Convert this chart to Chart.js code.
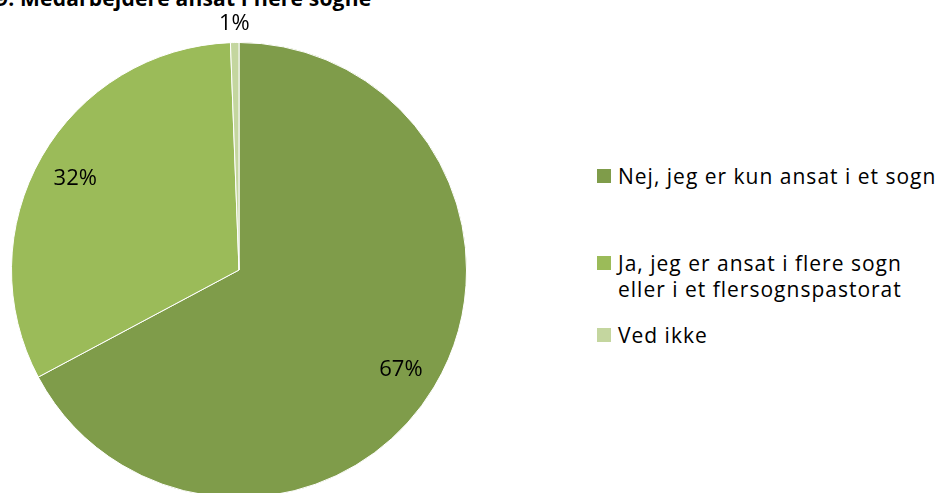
<!DOCTYPE html>
<html>
<head>
<meta charset="utf-8">
<script src="https://cdn.jsdelivr.net/npm/chart.js@4"></script>
<style>
  html, body { margin: 0; padding: 0; background: #fff; overflow: hidden; }
  body { width: 941px; height: 493px; position: relative; font-family: "Open Sans", Lato, sans-serif; color: #000; }
  #title { position: absolute; left: -4px; top: -16px; font-weight: bold; font-size: 21px; letter-spacing: 0.2px; white-space: nowrap; }
  #wrap { position: absolute; left: 0; top: 0; width: 478px; height: 540px; }
  #legend { position: absolute; left: 597px; top: 163px; }
  .item { position: relative; padding-left: 21px; font-size: 21px; letter-spacing: 1px; line-height: 26px; width: 320px; }
  .box { position: absolute; left: 0; top: 6px; width: 14px; height: 14px; }
</style>
</head>
<body>
<div id="title">9. Medarbejdere ansat i flere sogne</div>
<div id="wrap"><canvas id="chart"></canvas></div>
<div id="legend"></div>
<script>
// data
const categories = ["Nej, jeg er kun ansat i et sogn", "Ja, jeg er ansat i flere sogn eller i et flersognspastorat", "Ved ikke"];
const values = [67.2, 32.2, 0.6];
const colors = ["#7F9C4A", "#9BBB59", "#C4D69F"];

// procent-labels paa skiverne
const pctLabels = {
    id: "pctLabels",
    afterDatasetsDraw(chart) {
        const ctx = chart.ctx;
        const meta = chart.getDatasetMeta(0);
        const total = values.reduce((a, b) => a + b, 0);
        ctx.save();
        ctx.font = "22px 'Open Sans', sans-serif";
        ctx.fillStyle = "#000";
        ctx.textAlign = "center";
        ctx.textBaseline = "middle";
        meta.data.forEach((arc, i) => {
            const pct = values[i] / total * 100;
            const mid = (arc.startAngle + arc.endAngle) / 2;
            const r = pct < 3 ? arc.outerRadius + 22 : arc.outerRadius * 0.83;
            const x = arc.x + Math.cos(mid) * r;
            const y = arc.y + Math.sin(mid) * r + 3;
            ctx.fillText(Math.round(pct) + "%", x, y);
        });
        ctx.restore();
    }
};

const ctx = document.getElementById("chart").getContext("2d");
const chart = new Chart(ctx, {
    type: "pie",
    data: {
        labels: categories,
        datasets: [{
            data: values,
            backgroundColor: colors,
            borderColor: "#fff",
            borderWidth: 1
        }]
    },
    options: {
        responsive: true,
        maintainAspectRatio: false,
        animation: false,
        layout: { padding: { top: 42, left: 11, right: 11, bottom: 42 } },
        plugins: {
            legend: { display: false },
            tooltip: { enabled: false }
        }
    },
    plugins: [pctLabels]
});

// legende
const legend = document.getElementById("legend");
const gaps = [0, 61, 20];
categories.forEach((c, i) => {
    const div = document.createElement("div");
    div.className = "item";
    div.style.marginTop = gaps[i] + "px";
    div.innerHTML = '<span class="box" style="background:' + colors[i] + '"></span>' + c;
    legend.appendChild(div);
});
</script>
</body>
</html>
